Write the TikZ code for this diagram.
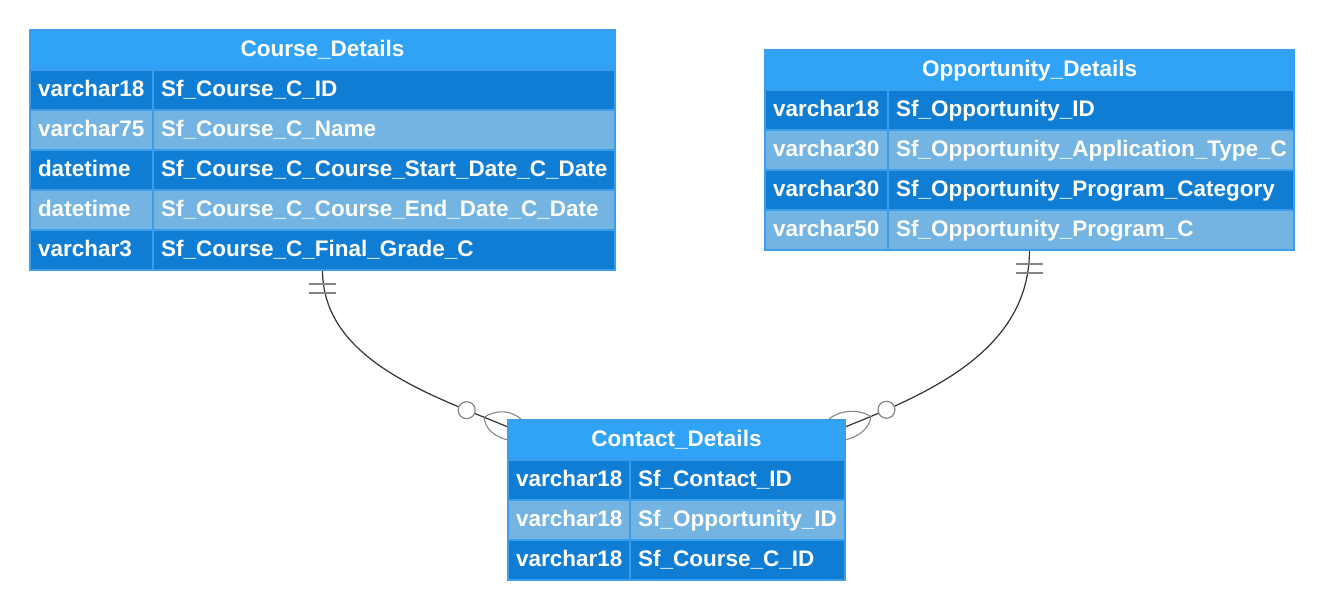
\documentclass[tikz,border=0pt]{standalone}
\usepackage{fontspec}
\setmainfont{Liberation Sans}
\usetikzlibrary{backgrounds}

\definecolor{tblhead}{HTML}{31A3F6}
\definecolor{rowdark}{HTML}{0F7DD4}
\definecolor{rowlight}{HTML}{73B4E2}
\definecolor{tblline}{HTML}{3A9EEC}
\definecolor{relline}{HTML}{333333}
\definecolor{relgray}{HTML}{858585}

\begin{document}
\begin{tikzpicture}[x=1pt, y=-1pt,
    tbl/.style={draw=tblline, line width=1.2pt, anchor=north west, outer sep=0pt,
        inner xsep=8pt, inner ysep=0pt, minimum height=40pt, text=white,
        text height=16pt, text depth=3pt, font=\fontsize{22.5}{26}\selectfont\bfseries},
    head/.style={tbl, fill=tblhead},
    cell/.style={tbl, text width=#1, align=left},
    darkrow/.style={fill=rowdark},
    lightrow/.style={fill=rowlight},
    rel/.style={draw=relline, line width=1.2pt},
    tick/.style={draw=relgray, line width=1.3pt},
    crow/.style={draw=relgray, line width=1.1pt},
    zero/.style={circle, draw=relgray, fill=white, line width=1.2pt, minimum size=17pt, inner sep=0pt}]
    \useasboundingbox (0,0) rectangle (1324,612);

    % Course_Details
    \node[head, minimum width=585pt] (course-h) at (30,30) {Course\_Details};
    \node[cell=107pt, darkrow] (course-1a) at (30,70) {varchar18};
    \node[cell=446pt, darkrow] (course-1b) at (153,70) {Sf\_Course\_C\_ID};
    \node[cell=107pt, lightrow] (course-2a) at (30,110) {varchar75};
    \node[cell=446pt, lightrow] (course-2b) at (153,110) {Sf\_Course\_C\_Name};
    \node[cell=107pt, darkrow] (course-3a) at (30,150) {datetime};
    \node[cell=446pt, darkrow] (course-3b) at (153,150) {Sf\_Course\_C\_Course\_Start\_Date\_C\_Date};
    \node[cell=107pt, lightrow] (course-4a) at (30,190) {datetime};
    \node[cell=446pt, lightrow] (course-4b) at (153,190) {Sf\_Course\_C\_Course\_End\_Date\_C\_Date};
    \node[cell=107pt, darkrow] (course-5a) at (30,230) {varchar3};
    \node[cell=446pt, darkrow] (course-5b) at (153,230) {Sf\_Course\_C\_Final\_Grade\_C};

    % Opportunity_Details
    \node[head, minimum width=529pt] (opp-h) at (765,50) {Opportunity\_Details};
    \node[cell=107pt, darkrow] (opp-1a) at (765,90) {varchar18};
    \node[cell=390pt, darkrow] (opp-1b) at (888,90) {Sf\_Opportunity\_ID};
    \node[cell=107pt, lightrow] (opp-2a) at (765,130) {varchar30};
    \node[cell=390pt, lightrow] (opp-2b) at (888,130) {Sf\_Opportunity\_Application\_Type\_C};
    \node[cell=107pt, darkrow] (opp-3a) at (765,170) {varchar30};
    \node[cell=390pt, darkrow] (opp-3b) at (888,170) {Sf\_Opportunity\_Program\_Category};
    \node[cell=107pt, lightrow] (opp-4a) at (765,210) {varchar50};
    \node[cell=390pt, lightrow] (opp-4b) at (888,210) {Sf\_Opportunity\_Program\_C};

    % Contact_Details
    \node[head, minimum width=337pt] (contact-h) at (508,420) {Contact\_Details};
    \node[cell=106pt, darkrow] (contact-1a) at (508,460) {varchar18};
    \node[cell=199pt, darkrow] (contact-1b) at (630,460) {Sf\_Contact\_ID};
    \node[cell=106pt, lightrow] (contact-2a) at (508,500) {varchar18};
    \node[cell=199pt, lightrow] (contact-2b) at (630,500) {Sf\_Opportunity\_ID};
    \node[cell=106pt, darkrow] (contact-3a) at (508,540) {varchar18};
    \node[cell=199pt, darkrow] (contact-3b) at (630,540) {Sf\_Course\_C\_ID};

    % relations
    \begin{scope}[on background layer]
        \coordinate (s1) at (course-h |- course-5b.south);
        \coordinate (e1) at ([yshift=-7pt]contact-h.north west);
        \coordinate (s2) at (opp-h |- opp-4b.south);
        \coordinate (e2) at ([yshift=-7pt]contact-h.north east);

        \draw[rel] (s1) .. controls +(0,90) and +(-77,-32) .. (e1)
            coordinate[pos=0.9] (m1) node[zero, pos=0.83] (z1) {};
        \draw[tick] ([yshift=-14pt]s1) +(-13.5,0) -- +(13.5,0);
        \draw[tick] ([yshift=-23pt]s1) +(-13.5,0) -- +(13.5,0);
        \draw[crow] (m1) .. controls +(12,-8) and +(-10,-10) .. ([xshift=14pt]contact-h.north west);
        \draw[crow] (m1) .. controls +(1,12) and +(-13,-3) .. ([yshift=-20pt]contact-h.north west);

        \draw[rel] (s2) .. controls +(0,100) and +(85,-34) .. (e2)
            coordinate[pos=0.9] (m2) node[zero, pos=0.84] (z2) {};
        \draw[tick] ([yshift=-14pt]s2) +(-13.5,0) -- +(13.5,0);
        \draw[tick] ([yshift=-23pt]s2) +(-13.5,0) -- +(13.5,0);
        \draw[crow] (m2) .. controls +(-12,-8) and +(10,-10) .. ([xshift=-17pt]contact-h.north east);
        \draw[crow] (m2) .. controls +(-1,12) and +(13,-3) .. ([yshift=-20pt]contact-h.north east);
    \end{scope}
\end{tikzpicture}
\end{document}
